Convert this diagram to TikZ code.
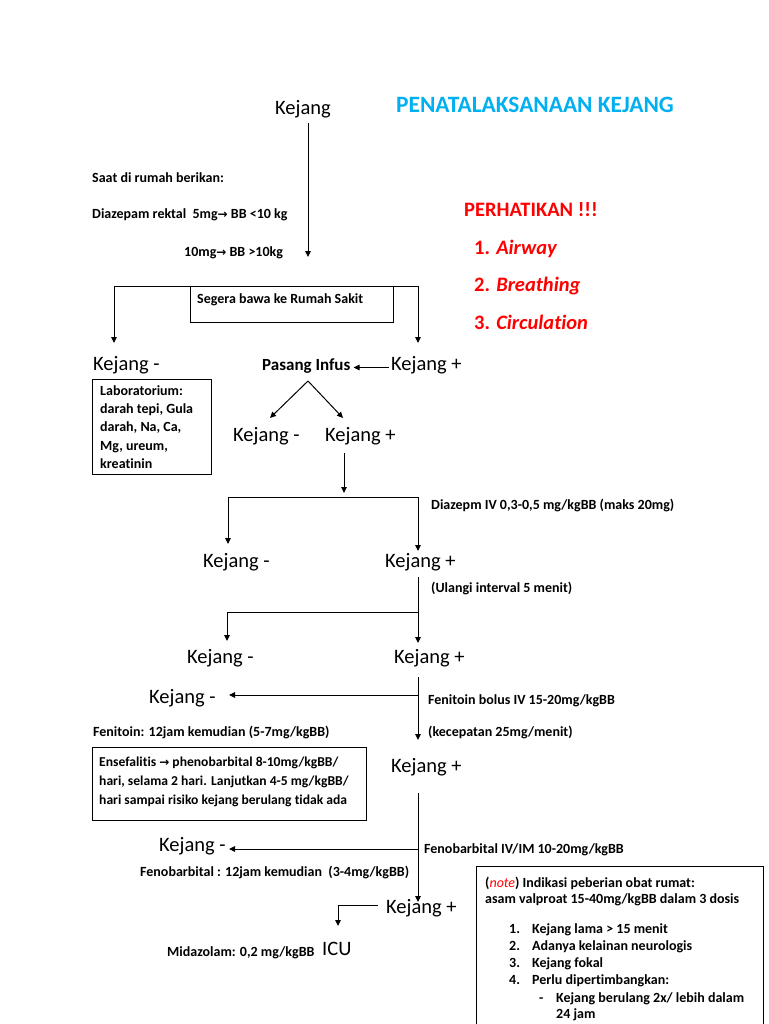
\documentclass[tikz,border=0pt]{standalone}
\usepackage{fontspec}
\setmainfont{Carlito}[Ligatures=NoCommon]
\newfontfamily\symf{DejaVu Sans}
\usetikzlibrary{arrows.meta}
\definecolor{titlecyan}{RGB}{0,176,240}
\definecolor{alertred}{RGB}{255,0,0}
\newcommand{\rarr}{{\symf\fontsize{12}{14}\selectfont →}}
\begin{document}
\begin{tikzpicture}[x=1pt,y=-1pt,
  txt/.style={inner sep=0pt,anchor=west,text height=0.64em,text depth=0pt,yshift=-0.25em},
  big/.style={txt,font=\fontsize{20.5}{24}\selectfont},
  small/.style={txt,font=\bfseries\fontsize{14}{17}\selectfont},
  alert/.style={txt,font=\bfseries\fontsize{20.5}{24}\selectfont,text=alertred},
  para/.style={inner sep=0pt,anchor=west,align=left},
  ln/.style={line width=1pt},
  arr/.style={ln,-{Triangle[length=6pt,width=5.5pt]}},
  frame/.style={draw,line width=1pt,inner sep=0pt,anchor=north west}]
\useasboundingbox[fill=white] (0,0) rectangle (768,1024);

% header
\node[big] (k0) at (275,109) {Kejang};
\node[txt,font=\bfseries\fontsize{23.4}{27}\selectfont,text=titlecyan] (title) at (396,107) {PENATALAKSANAAN KEJANG};
\node[small] (saat) at (92,177) {Saat di rumah berikan:};
\node[small] (rektal) at (92,213) {Diazepam rektal\ \ 5mg\rarr{} BB <10 kg};
\node[small] (dosis10) at (184,251) {10mg\rarr{} BB >10kg};
\node[alert] (perh) at (464,211) {PERHATIKAN !!!};
\node[alert] (airway) at (474,249) {1. \textit{Airway}};
\node[alert] (breath) at (474,286) {2. \textit{Breathing}};
\node[alert] (circ) at (474,324) {3. \textit{Circulation}};

\coordinate (t0) at (308,123);
\coordinate (t1) at (308,257);
\draw[arr] (t0) -- (t1);

% hospital split
\node[frame,minimum width=203pt,minimum height=36pt] (rs) at (190,286) {};
\node[small] (rstext) at (197,298) {Segera bawa ke Rumah Sakit};
\coordinate (s1) at (114,286);
\coordinate (s2) at (418,286);
\coordinate (s1e) at (114,343);
\coordinate (s2e) at (418,343);
\draw[ln] (s1) -- (s2);
\draw[arr] (s1) -- (s1e);
\draw[arr] (s2) -- (s2e);

\node[big] (km1) at (93,365) {Kejang -};
\node[big] (kp1) at (391,365) {Kejang +};
\node[txt,font=\bfseries\fontsize{17}{20}\selectfont] (infus) at (262,365) {Pasang Infus};
\draw[arr,shorten <=2pt,shorten >=3pt] (kp1.west) -- (infus.east);

\node[frame,minimum width=119pt,minimum height=95pt] (lab) at (92,379) {};
\node[para,font=\bfseries\fontsize{14}{18.2}\selectfont] (labtext) at (100,427) {Laboratorium:\\darah tepi, Gula\\darah, Na, Ca,\\Mg, ureum,\\kreatinin};

% infus branches
\coordinate (apex) at (308,381);
\coordinate (bl) at (270,418);
\coordinate (br) at (343,418);
\draw[arr] (apex) -- (bl);
\draw[arr] (apex) -- (br);
\node[big] (km2) at (233,436) {Kejang -};
\node[big] (kp2) at (325,436) {Kejang +};

% diazepam IV
\coordinate (d0) at (344,453);
\coordinate (d1) at (344,493);
\draw[arr] (d0) -- (d1);
\coordinate (h1) at (228,497);
\coordinate (h2) at (418,497);
\coordinate (h1e) at (228,544);
\coordinate (h2e) at (418,551);
\draw[ln] (h1) -- (h2);
\draw[arr] (h1) -- (h1e);
\draw[arr] (h2) -- (h2e);
\node[small] (diazIV) at (431,504) {Diazepm IV 0,3-0,5 mg/kgBB (maks 20mg)};
\node[big] (km3) at (203,562) {Kejang -};
\node[big] (kp3) at (385,562) {Kejang +};
\node[small] (ulangi) at (431,587) {(Ulangi interval 5 menit)};

% repeat
\coordinate (u0) at (418,577);
\coordinate (u1) at (418,643);
\coordinate (uj) at (418,612);
\coordinate (uc) at (227,612);
\coordinate (ue) at (227,641);
\draw[arr] (u0) -- (u1);
\draw[arr] (uj) -- (uc) -- (ue);
\node[big] (km4) at (187,658) {Kejang -};
\node[big] (kp4) at (394,658) {Kejang +};

% fenitoin
\coordinate (f0) at (418,677);
\coordinate (f1) at (418,740);
\coordinate (fj) at (418,695);
\coordinate (fe) at (229,695);
\draw[arr] (f0) -- (f1);
\draw[arr] (fj) -- (fe);
\node[big] (km5) at (149,698) {Kejang -};
\node[small] (fenbolus) at (428,699) {Fenitoin bolus IV 15-20mg/kgBB};
\node[small] (kecep) at (428,731) {(kecepatan 25mg/menit)};
\node[small] (fen12) at (93,731) {Fenitoin: 12jam kemudian (5-7mg/kgBB)};
\node[frame,minimum width=274pt,minimum height=73pt] (ensef) at (92,747) {};
\node[para,font=\bfseries\fontsize{13.6}{19.3}\selectfont] (enseftext) at (99,782) {Ensefalitis \rarr{} phenobarbital 8-10mg/kgBB/\\hari, selama 2 hari. Lanjutkan 4-5 mg/kgBB/\\hari sampai risiko kejang berulang tidak ada};
\node[big] (kp5) at (391,767) {Kejang +};

% fenobarbital
\coordinate (p0) at (418,793);
\coordinate (p1) at (418,902);
\coordinate (pj) at (418,849);
\coordinate (pe) at (229,849);
\draw[arr] (p0) -- (p1);
\draw[arr] (pj) -- (pe);
\node[big] (km6) at (159,846) {Kejang -};
\node[small] (fenoIV) at (424,848) {Fenobarbital IV/IM 10-20mg/kgBB};
\node[small] (feno12) at (140,871) {Fenobarbital : 12jam kemudian\ \ (3-4mg/kgBB)};
\node[big] (kp6) at (386,908) {Kejang +};
\coordinate (m0) at (378,905);
\coordinate (mc) at (338,905);
\coordinate (m1) at (338,926);
\draw[arr] (m0) -- (mc) -- (m1);
\node[small] (mida) at (167,951) {Midazolam: 0,2 mg/kgBB};
\node[big] (icu) at (322,950) {ICU};

% note box
\node[frame,minimum width=287pt,minimum height=180pt] (notebox) at (476,866) {};
\node[small] (n1) at (485,882) {(\textcolor{alertred}{\mdseries\itshape note}) Indikasi peberian obat rumat:};
\node[small] (n2) at (485,898) {asam valproat 15-40mg/kgBB dalam 3 dosis};
\node[small] (l1n) at (509,928) {1.};
\node[small] (l1) at (532,928) {Kejang lama > 15 menit};
\node[small] (l2n) at (509,945) {2.};
\node[small] (l2) at (532,945) {Adanya kelainan neurologis};
\node[small] (l3n) at (509,962) {3.};
\node[small] (l3) at (532,962) {Kejang fokal};
\node[small] (l4n) at (509,979) {4.};
\node[small] (l4) at (532,979) {Perlu dipertimbangkan:};
\node[small] (dash) at (539,997) {-};
\node[small] (l5) at (556,997) {Kejang berulang 2x/ lebih dalam};
\node[small] (l6) at (556,1013) {24 jam};
\end{tikzpicture}
\end{document}
